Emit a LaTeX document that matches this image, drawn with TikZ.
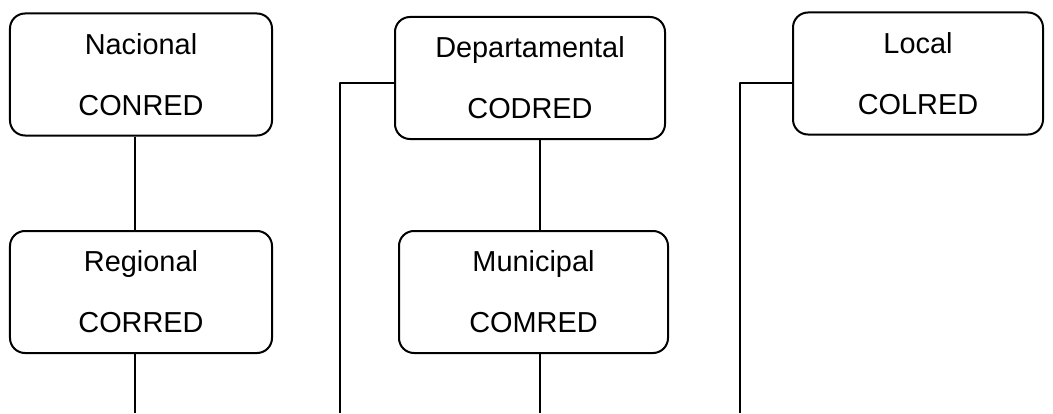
\documentclass[tikz,border=0pt]{standalone}
\usepackage{fontspec}
\setmainfont{Liberation Sans}
\usetikzlibrary{positioning}

\begin{document}
\begin{tikzpicture}[line join=bevel,x=1bp,y=1bp,
  level/.style={draw,rounded corners=15bp,line width=2bp,align=center,
    minimum width=#1,minimum height=122bp,inner sep=0pt,
    font=\fontsize{29}{61}\selectfont},
  link/.style={line width=2bp}]
  \useasboundingbox (0,0) rectangle (1053,413);
%%
  % Node: nac
  \node[level=262bp] (nac) at (141,338.5) {Nacional\\CONRED};
  % Node: reg
  \node[level=262bp] (reg) at (141,121) {Regional\\CORRED};
  % Node: dep
  \node[level=270bp] (dep) at (530,335) {Departamental\\CODRED};
  % Node: mun
  \node[level=269bp] (mun) at (533.5,121) {Municipal\\COMRED};
  % Node: loc
  \node[level=250bp] (loc) at (918,339.5) {Local\\COLRED};
  % Ends at the lower edge
  \coordinate (regfoot) at (135,0);
  \coordinate (depfoot) at (340,0);
  \coordinate (munfoot) at (540,0);
  \coordinate (locfoot) at (740,0);
  % Edge: nac -> reg
  \draw[link] (nac.south -| regfoot) -- (reg.north -| regfoot);
  % Edge: reg -> foot
  \draw[link] (reg.south -| regfoot) -- (regfoot);
  % Edge: dep -> foot
  \draw[link] ([yshift=-5bp]dep.west) -| (depfoot);
  % Edge: dep -> mun
  \draw[link] (dep.south -| munfoot) -- (mun.north -| munfoot);
  % Edge: mun -> foot
  \draw[link] (mun.south -| munfoot) -- (munfoot);
  % Edge: loc -> foot
  \draw[link] ([yshift=-9bp]loc.west) -| (locfoot);
%
\end{tikzpicture}
\end{document}
